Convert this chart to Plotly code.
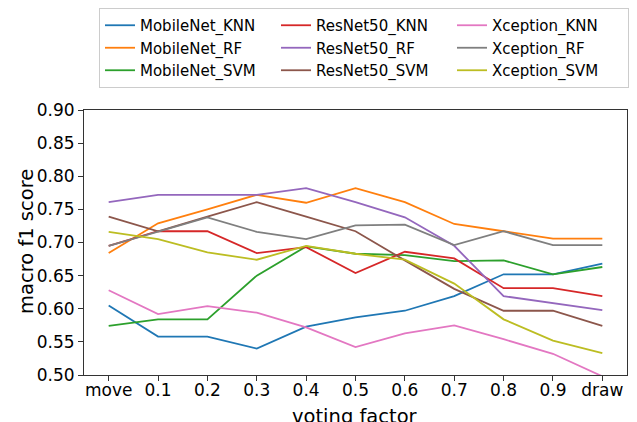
import plotly.graph_objects as go

categories = ["move", "0.1", "0.2", "0.3", "0.4", "0.5", "0.6", "0.7", "0.8", "0.9", "draw"]

mobilenet_knn = [0.605, 0.558, 0.558, 0.540, 0.573, 0.587, 0.597, 0.619, 0.652, 0.652, 0.668]
mobilenet_rf = [0.684, 0.729, 0.750, 0.772, 0.760, 0.782, 0.761, 0.728, 0.717, 0.706, 0.706]
mobilenet_svm = [0.574, 0.584, 0.584, 0.650, 0.694, 0.683, 0.681, 0.672, 0.673, 0.652, 0.663]
resnet50_knn = [0.695, 0.717, 0.717, 0.684, 0.693, 0.654, 0.686, 0.676, 0.631, 0.631, 0.619]
resnet50_rf = [0.761, 0.772, 0.772, 0.772, 0.782, 0.761, 0.738, 0.695, 0.619, 0.609, 0.598]
resnet50_svm = [0.739, 0.717, 0.739, 0.761, 0.739, 0.717, 0.673, 0.630, 0.597, 0.597, 0.574]
xception_knn = [0.628, 0.592, 0.604, 0.594, 0.572, 0.542, 0.563, 0.575, 0.554, 0.532, 0.498]
xception_rf = [0.695, 0.717, 0.738, 0.716, 0.705, 0.726, 0.727, 0.696, 0.717, 0.696, 0.696]
xception_svm = [0.716, 0.705, 0.685, 0.674, 0.695, 0.683, 0.674, 0.638, 0.584, 0.552, 0.533]

series_names = ["MobileNet_KNN", "MobileNet_RF", "MobileNet_SVM",
                "ResNet50_KNN", "ResNet50_RF", "ResNet50_SVM",
                "Xception_KNN", "Xception_RF", "Xception_SVM"]
series_values = [mobilenet_knn, mobilenet_rf, mobilenet_svm,
                 resnet50_knn, resnet50_rf, resnet50_svm,
                 xception_knn, xception_rf, xception_svm]
colors = ["#1f77b4", "#ff7f0e", "#2ca02c", "#d62728", "#9467bd",
          "#8c564b", "#e377c2", "#7f7f7f", "#bcbd22"]

x_title = "voting factor"
y_title = "macro f1 score"

fig = go.Figure()
for i, (name, vals) in enumerate(zip(series_names, series_values)):
    g, c = divmod(i, 3)
    fig.add_trace(go.Scatter(
        x=categories, y=vals, name=name, mode="lines",
        line=dict(color=colors[i], width=1.8),
        legendrank=c * 3 + g + 1,
    ))

font_family = "DejaVu Sans"
W, H = 637, 422
ML, MR, MT, MB = 84, 10, 110, 47
PW, PH = W - ML - MR, H - MT - MB

fig.update_layout(
    width=W, height=H,
    margin=dict(l=ML, r=MR, t=MT, b=MB),
    paper_bgcolor="white", plot_bgcolor="white",
    font=dict(family=font_family, color="black", size=17),
    showlegend=True,
    legend=dict(
        orientation="h", x=99 / W, xanchor="left", y=1 - 8 / H, yanchor="top",
        xref="container", yref="container",
        entrywidth=131, entrywidthmode="pixels",
        font=dict(size=15, family=font_family),
        bordercolor="#cccccc", borderwidth=1, bgcolor="white",
        tracegroupgap=0, itemwidth=30,
    ),
    xaxis=dict(
        type="category", range=[-0.5, 10.5], automargin=False,
        showgrid=False, zeroline=False,
        showline=True, linecolor="#333333", linewidth=1, mirror=True,
        ticks="outside", ticklen=5, tickcolor="#333333",
        tickfont=dict(size=17), ticklabelstandoff=-5,
    ),
    yaxis=dict(
        range=[0.50, 0.90], dtick=0.05, tickformat=".2f", automargin=False,
        showgrid=False, zeroline=False,
        showline=True, linecolor="#333333", linewidth=1, mirror=True,
        ticks="outside", ticklen=5, tickcolor="#333333",
        tickfont=dict(size=17),
    ),
    annotations=[
        dict(text=x_title, xref="paper", yref="paper",
             x=(355 - ML) / PW, y=-(403 - (MT + PH)) / PH,
             xanchor="center", yanchor="top", showarrow=False,
             font=dict(size=19.5, family=font_family, color="black")),
        dict(text=y_title, xref="paper", yref="paper",
             x=(26 - ML) / PW, y=(MT + PH - 242) / PH,
             xanchor="center", yanchor="middle", showarrow=False, textangle=-90,
             font=dict(size=19.5, family=font_family, color="black")),
    ],
)

fig.write_html("out.html", config={"displayModeBar": False},
               post_script="document.body.style.margin='0px';document.body.style.overflow='hidden';")
